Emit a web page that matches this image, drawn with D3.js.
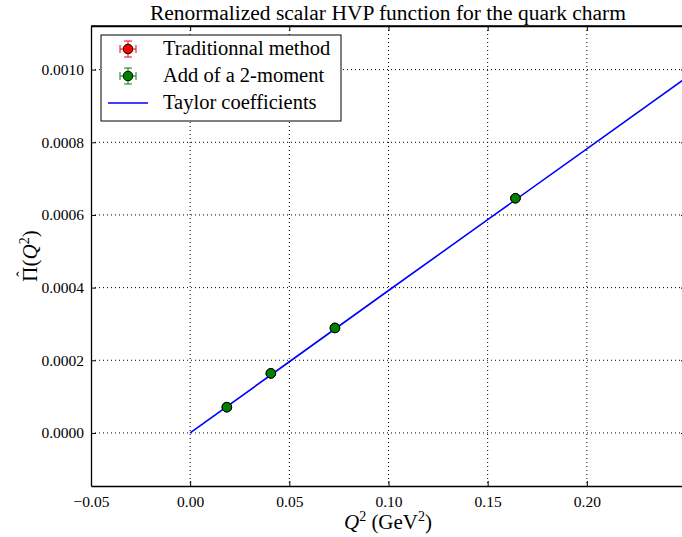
<!DOCTYPE html>
<html><head><meta charset="utf-8">
<script src="https://cdn.jsdelivr.net/npm/d3@7"></script>
<style>body{margin:0;background:#fff}svg{display:block}text{font-family:"Liberation Serif","Times New Roman",serif;fill:#000}</style>
</head><body><svg id="c" width="682" height="537" font-family="Liberation Serif, serif"></svg>
<script>
// Data
const q2 = [0.0185, 0.0407, 0.073, 0.164];
const piTrad = [0.000071, 0.000164, 0.000289, 0.000646];
const piMom2 = [0.000071, 0.000164, 0.000289, 0.000646];
const errTrad = [0.000002, 0.000002, 0.000002, 0.000003];
const errMom2 = [0.000002, 0.000002, 0.000002, 0.000003];
const taylorQ = [0, 0.05, 0.10, 0.15, 0.20, 0.25];
const taylorPi = [0, 0.000196, 0.000392, 0.000587, 0.000782, 0.000977];
const xTicks = [-0.05, 0, 0.05, 0.10, 0.15, 0.20];
const yTicks = [0, 0.0002, 0.0004, 0.0006, 0.0008, 0.0010];

const FONT = '"Liberation Serif", serif';
const svg = d3.select("#c");
const L = 91, R = 686, T = 26, B = 486;
const x = d3.scaleLinear().domain([-0.05, 0.25]).range([L, R]);
const y = d3.scaleLinear().domain([-0.000146, 0.00112]).range([B, T]);

svg.append("defs").append("clipPath").attr("id","pc")
  .append("rect").attr("x",L).attr("y",T).attr("width",R-L).attr("height",B-T);

// grid
const g = svg.append("g").attr("clip-path","url(#pc)");
g.selectAll(".gx").data(xTicks).enter().append("line")
  .attr("x1",d=>x(d)).attr("x2",d=>x(d)).attr("y1",T).attr("y2",B)
  .attr("stroke","#000").attr("stroke-width",1).attr("stroke-dasharray","1,3");
g.selectAll(".gy").data(yTicks).enter().append("line")
  .attr("y1",d=>y(d)).attr("y2",d=>y(d)).attr("x1",L).attr("x2",R)
  .attr("stroke","#000").attr("stroke-width",1).attr("stroke-dasharray","1,3");

// axes (ticks inside)
const fx = d3.format(".2f"), fy = d3.format(".4f");
const ax = svg.append("g").attr("transform",`translate(0,${B})`)
  .call(d3.axisBottom(x).tickValues(xTicks).tickSizeInner(-5).tickSizeOuter(0).tickPadding(10)
  .tickFormat(d=>fx(d).replace("-","\u2212")));
const axT = svg.append("g").attr("transform",`translate(0,${T})`)
  .call(d3.axisTop(x).tickValues(xTicks).tickSizeInner(-5).tickSizeOuter(0).tickFormat(""));
const ay = svg.append("g").attr("transform",`translate(${L},0)`)
  .call(d3.axisLeft(y).tickValues(yTicks).tickSizeInner(-5).tickSizeOuter(0).tickPadding(7).tickFormat(fy));
const ayR = svg.append("g").attr("transform",`translate(${R},0)`)
  .call(d3.axisRight(y).tickValues(yTicks).tickSizeInner(-5).tickSizeOuter(0).tickFormat(""));
[ax,axT,ay,ayR].forEach(a=>{
  a.attr("font-family",FONT).attr("font-size",15.5);
  a.selectAll(".domain").attr("stroke","#000").attr("stroke-width",1.3);
  a.selectAll(".tick line").attr("stroke","#000").attr("stroke-width",1);
  a.selectAll("text").attr("fill","#222");
});
ax.selectAll("text").attr("dy","0.71em");

// Taylor line
g.append("path").datum(taylorQ.map((d,i)=>[d,taylorPi[i]]))
  .attr("d",d3.line().x(d=>x(d[0])).y(d=>y(d[1])))
  .attr("fill","none").attr("stroke","#0000ff").attr("stroke-width",1.6);

function points(vals, errs, color){
  const gg = g.append("g");
  q2.forEach((q,i)=>{
    gg.append("line").attr("x1",x(q)).attr("x2",x(q)).attr("y1",y(vals[i]-errs[i])).attr("y2",y(vals[i]+errs[i]))
      .attr("stroke",color).attr("stroke-width",1);
  });
  gg.selectAll("circle").data(q2).enter().append("circle")
    .attr("cx",d=>x(d)).attr("cy",(d,i)=>y(vals[i])).attr("r",4.8)
    .attr("fill",color).attr("stroke","#000").attr("stroke-width",1);
}
points(piTrad, errTrad, "#ff0000");
points(piMom2, errMom2, "#008000");

svg.append("line").attr("x1",L).attr("x2",R).attr("y1",T).attr("y2",T).attr("stroke","#000").attr("stroke-width",1.3);

// title
svg.append("text").attr("x",388).attr("y",20).attr("text-anchor","middle")
  .attr("font-family",FONT).attr("font-size",20.5)
  .attr("textLength",476).attr("lengthAdjust","spacingAndGlyphs")
  .text("Renormalized scalar HVP function for the quark charm");

// x label
const xl = svg.append("text").attr("x",388).attr("y",529).attr("text-anchor","middle")
  .attr("font-family",FONT).attr("font-size",21);
xl.append("tspan").style("font-style","italic").text("Q");
xl.append("tspan").attr("dy",-8).attr("font-size",14).text("2");
xl.append("tspan").attr("dy",8).text(" (GeV");
xl.append("tspan").attr("dy",-8).attr("font-size",14).text("2");
xl.append("tspan").attr("dy",8).text(")");

// y label
const yg = svg.append("g").attr("transform","translate(37,256) rotate(-90)");
const yl = yg.append("text").attr("x",0).attr("y",0).attr("font-family",FONT).attr("font-size",21);
const piSpan = yl.append("tspan").text("\u03A0");
yl.append("tspan").text("(");
yl.append("tspan").style("font-style","italic").text("Q");
yl.append("tspan").attr("dy",-8).attr("font-size",14).text("2");
yl.append("tspan").attr("dy",8).text(")");
const tl = yl.node().getComputedTextLength();
yl.attr("x",-tl/2);
const piW = piSpan.node().getComputedTextLength();
yg.append("text").attr("x",-tl/2+piW/2).attr("y",-9).attr("text-anchor","middle")
  .attr("font-family",FONT).attr("font-size",17).text("\u02C6");

// legend
const lg = svg.append("g");
lg.append("rect").attr("x",101).attr("y",35).attr("width",240).attr("height",86)
  .attr("fill","#fff").attr("stroke","#000").attr("stroke-width",1);
const legLabels = ["Traditionnal method","Add of a 2-moment","Taylor coefficients"];
const legColors = ["#ff0000","#008000","#0000ff"];
const legY = [49,76,103];
legLabels.forEach((lab,i)=>{
  const yy = legY[i], c = legColors[i];
  if(i<2){
    lg.append("line").attr("x1",120).attr("x2",136).attr("y1",yy).attr("y2",yy).attr("stroke",c).attr("stroke-width",1);
    lg.append("line").attr("x1",128).attr("x2",128).attr("y1",yy-8).attr("y2",yy+8).attr("stroke",c).attr("stroke-width",1);
    [120,136].forEach(xx=>lg.append("line").attr("x1",xx).attr("x2",xx).attr("y1",yy-4).attr("y2",yy+4).attr("stroke",c).attr("stroke-width",1));
    [yy-8,yy+8].forEach(v=>lg.append("line").attr("x1",124).attr("x2",132).attr("y1",v).attr("y2",v).attr("stroke",c).attr("stroke-width",1));
    lg.append("circle").attr("cx",128).attr("cy",yy).attr("r",4.8).attr("fill",c).attr("stroke","#000").attr("stroke-width",1);
  } else {
    lg.append("line").attr("x1",108).attr("x2",148).attr("y1",yy).attr("y2",yy).attr("stroke",c).attr("stroke-width",1.3);
  }
  lg.append("text").attr("x",163).attr("y",yy+6).attr("font-family",FONT).attr("font-size",20.5).text(lab);
});
</script></body></html>
